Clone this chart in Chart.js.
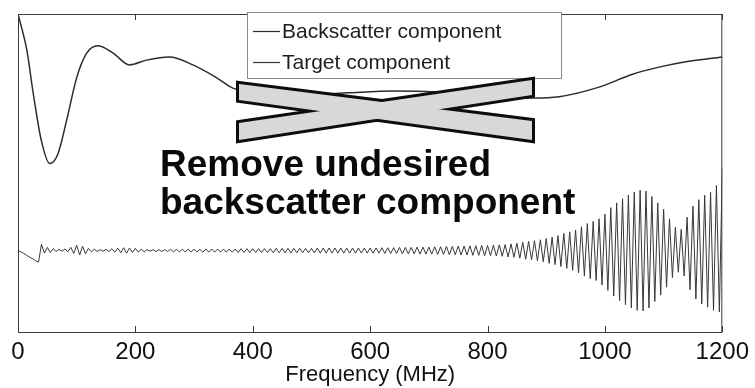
<!DOCTYPE html>
<html>
<head>
<meta charset="utf-8">
<script src="https://cdn.jsdelivr.net/npm/chart.js@4.4.1/dist/chart.umd.min.js"></script>
<style>
  html, body { margin: 0; padding: 0; background: #fff; }
</style>
</head>
<body>
<canvas id="freq-chart" width="755" height="388"></canvas>
<script>
var xTicks = [0, 200, 400, 600, 800, 1000, 1200];
var seriesNames = ['Backscatter component', 'Target component'];

// backscatter component (smooth curve)
var backFreq   = [0, 15, 26, 40, 54, 68, 83, 100, 117, 136, 162, 190, 219, 258, 298, 338, 366, 420, 480, 560, 640, 720, 800, 876, 922, 990, 1046, 1092, 1138, 1200];
var backValues = [100, 88.7, 75, 60, 53, 56, 66.7, 80, 87.7, 90, 87.7, 84, 85.5, 86.5, 84, 80, 76.7, 75, 74.5, 75.2, 75.8, 75.5, 74.6, 73.6, 74, 77, 81, 83.3, 85, 86.5];

// target component, sampled every 5 MHz from 0 to 1200
var targetStep = 5;
var targetValues = [
  25.6, 25.2, 24.7, 24.1, 23.5, 23.0, 22.4, 22.0, 27.6, 24.8,
  26.6, 25.0, 26.2, 25.3, 26.0, 25.4, 26.1, 25.2, 26.6, 24.7,
  27.3, 24.2, 27.0, 24.6, 26.3, 25.2, 26.0, 25.3, 25.9, 25.4,
  26.0, 25.3, 26.2, 25.1, 26.4, 24.9, 26.5, 24.8, 26.4, 25.0,
  26.3, 25.1, 26.1, 25.2, 25.9, 25.4, 25.9, 25.3, 25.9, 25.3,
  25.9, 25.3, 26.0, 25.2, 26.0, 25.2, 26.0, 25.2, 26.0, 25.2,
  26.0, 25.2, 26.0, 25.1, 26.1, 25.1, 26.1, 25.1, 26.1, 25.1,
  26.1, 25.1, 26.1, 25.1, 26.1, 25.0, 26.2, 25.0, 26.2, 25.0,
  26.2, 25.0, 26.2, 25.0, 26.2, 25.0, 26.2, 24.9, 26.3, 24.9,
  26.3, 24.9, 26.3, 24.9, 26.3, 24.9, 26.3, 24.9, 26.3, 24.9,
  26.3, 24.9, 26.4, 24.8, 26.4, 24.8, 26.4, 24.8, 26.4, 24.8,
  26.4, 24.8, 26.4, 24.8, 26.4, 24.8, 26.4, 24.8, 26.4, 24.8,
  26.4, 24.8, 26.4, 24.8, 26.5, 24.7, 26.5, 24.7, 26.5, 24.7,
  26.6, 24.6, 26.6, 24.6, 26.6, 24.6, 26.7, 24.5, 26.7, 24.5,
  26.7, 24.5, 26.8, 24.4, 26.8, 24.4, 26.9, 24.3, 26.9, 24.3,
  27.0, 24.2, 27.0, 24.2, 27.1, 24.1, 27.1, 24.1, 27.2, 24.0,
  27.2, 24.0, 27.3, 23.9, 27.4, 23.8, 27.5, 23.6, 27.7, 23.5,
  27.9, 23.2, 28.2, 22.9, 28.5, 22.7, 28.7, 22.4, 29.0, 22.1,
  29.4, 21.6, 29.8, 21.2, 30.3, 20.6, 31.0, 20.0, 31.5, 19.4,
  32.1, 18.6, 33.1, 17.6, 34.1, 16.8, 34.8, 16.2, 35.6, 14.8,
  37.1, 13.1, 39.1, 11.3, 40.6, 9.9, 41.9, 8.6, 43.1, 7.6,
  44.0, 6.8, 44.6, 6.6, 44.3, 7.6, 42.6, 9.6, 40.6, 11.6,
  38.6, 14.1, 35.6, 17.1, 32.9, 18.8, 32.3, 17.6, 36.1, 13.3,
  39.6, 10.4, 41.6, 8.8, 43.0, 7.8, 43.9, 6.8, 46.1, 6.3,
  51.6
];

var backPoints = backFreq.map(function (f, i) { return { x: f, y: backValues[i] }; });
var targetPoints = targetValues.map(function (v, i) { return { x: i * targetStep, y: v }; });

var overlay = {
  id: 'overlay',
  afterDatasetsDraw: function (chart) {
    var ctx = chart.ctx, a = chart.chartArea, xs = chart.scales.x;
    ctx.save();

    // axes box and inward ticks
    ctx.strokeStyle = '#3a3a3a';
    ctx.lineWidth = 1;
    ctx.strokeRect(a.left + 0.5, a.top + 0.5, a.right - a.left - 1, a.bottom - a.top);
    ctx.beginPath();
    xTicks.forEach(function (v) {
      var px = Math.round(xs.getPixelForValue(v)) + 0.5;
      ctx.moveTo(px, a.bottom); ctx.lineTo(px, a.bottom - 6);
      ctx.moveTo(px, a.top); ctx.lineTo(px, a.top + 6);
    });
    ctx.stroke();

    // legend box
    ctx.fillStyle = '#fff';
    ctx.fillRect(247, 12, 314, 66);
    ctx.strokeStyle = '#8a8a8a';
    ctx.strokeRect(247.5, 12.5, 314, 66);
    ctx.font = '21px "Liberation Sans", Arial, sans-serif';
    ctx.textBaseline = 'middle';
    ctx.textAlign = 'left';
    chart.data.datasets.forEach(function (ds, i) {
      var y = 31 + i * 31;
      ctx.strokeStyle = ds.borderColor;
      ctx.lineWidth = 1.2;
      ctx.beginPath(); ctx.moveTo(253, y + 0.5); ctx.lineTo(280, y + 0.5); ctx.stroke();
      ctx.fillStyle = '#1e1e1e';
      ctx.fillText(ds.label, 282, y + 1);
    });

    // crossed-out bars
    var bars = [
      [[239, 84], [532, 121], [532, 140], [239, 100]],
      [[239, 123], [532, 80], [532, 95], [239, 140]]
    ];
    function path(p) {
      ctx.beginPath();
      ctx.moveTo(p[0][0], p[0][1]);
      for (var k = 1; k < p.length; k++) ctx.lineTo(p[k][0], p[k][1]);
      ctx.closePath();
    }
    ctx.lineJoin = 'miter';
    ctx.strokeStyle = '#0d0d0d';
    ctx.lineWidth = 6;
    bars.forEach(function (p) { path(p); ctx.stroke(); });
    ctx.fillStyle = '#d8d8d8';
    bars.forEach(function (p) { path(p); ctx.fill(); });

    // note
    ctx.fillStyle = '#0a0a0a';
    ctx.font = 'bold 37px "Liberation Sans", Arial, sans-serif';
    ctx.textBaseline = 'alphabetic';
    ctx.fillText('Remove undesired', 160, 176);
    ctx.fillText('backscatter component', 160, 214);

    ctx.restore();
  }
};

var ctx = document.getElementById('freq-chart').getContext('2d');
var freqChart = new Chart(ctx, {
  type: 'line',
  data: {
    datasets: [{
      label: seriesNames[0],
      data: backPoints,
      borderColor: '#2b2b2b',
      borderWidth: 1.5,
      pointRadius: 0,
      cubicInterpolationMode: 'monotone'
    }, {
      label: seriesNames[1],
      data: targetPoints,
      borderColor: '#383838',
      borderWidth: 1,
      pointRadius: 0,
      tension: 0
    }]
  },
  options: {
    responsive: false,
    animation: false,
    layout: { padding: { left: 18, right: 31, top: 14, bottom: 0 } },
    plugins: {
      legend: { display: false },
      tooltip: { enabled: false }
    },
    scales: {
      x: {
        type: 'linear',
        min: 0,
        max: 1200,
        afterBuildTicks: function (scale) {
          scale.ticks = xTicks.map(function (v) { return { value: v }; });
        },
        afterFit: function (scale) { scale.height = 56; },
        grid: { display: false, drawTicks: false },
        border: { display: false },
        ticks: {
          padding: 6,
          maxRotation: 0,
          color: '#111',
          callback: function (v) { return String(v); },
          font: { family: '"Liberation Sans", Arial, sans-serif', size: 24 }
        },
        title: {
          display: true,
          text: 'Frequency (MHz)',
          color: '#111',
          padding: 0,
          font: { family: '"Liberation Sans", Arial, sans-serif', size: 22 }
        }
      },
      y: {
        min: 0,
        max: 100,
        display: false
      }
    }
  },
  plugins: [overlay]
});
</script>
</body>
</html>
